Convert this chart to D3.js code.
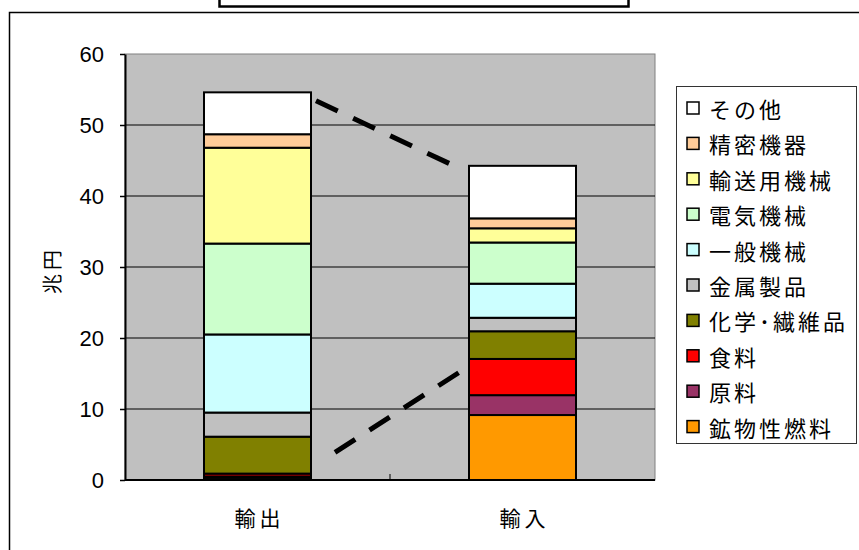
<!DOCTYPE html>
<html>
<head>
<meta charset="utf-8">
<script src="https://cdn.jsdelivr.net/npm/d3@7"></script>
<style>
  body { margin: 0; background: #fff; }
  text { font-family: "Liberation Sans", Arial, sans-serif; }
  .jp { font-family: "Noto Sans CJK JP", sans-serif; }
</style>
</head>
<body>
<svg width="859" height="550"></svg>
<script>
// categories on the x axis
var groups = ["輸出", "輸入"];

// stacking order, bottom to top
var items = ["鉱物性燃料", "原料", "食料", "化学･繊維品", "金属製品",
             "一般機械", "電気機械", "輸送用機械", "精密機器", "その他"];

var colors = ["#FF9900", "#993366", "#FF0000", "#808000", "#C0C0C0",
              "#CCFFFF", "#CCFFCC", "#FFFF99", "#FFCC99", "#FFFFFF"];

// values in 兆円, same order as items
var exportValues = [0.3, 0.2, 0.4, 5.2, 3.4, 11.0, 12.8, 13.5, 1.9, 5.9];
var importValues = [9.15, 2.8, 5.1, 3.9, 1.9, 4.8, 5.8, 2.0, 1.4, 7.4];

var yTicks = [0, 10, 20, 30, 40, 50, 60];

// hand-drawn dashed guide lines: [value at 輸出, value at 輸入]
var guideLines = [[53.4, 44.4], [3.9, 15.5]];

var svg = d3.select("svg");

var plot = { left: 125, right: 655, top: 54, bottom: 480 };

var x = d3.scalePoint()
    .domain(groups)
    .range([plot.left, plot.right])
    .padding(0.5);

var y = d3.scaleLinear()
    .domain([0, 60])
    .range([plot.bottom, plot.top]);

var barWidth = 107;

// outer frame and cut-off title box
svg.append("rect")
    .attr("x", 9.5).attr("y", 12.5)
    .attr("width", 870).attr("height", 570)
    .attr("fill", "#fff")
    .attr("stroke", "#000")
    .attr("stroke-width", 1.5);

svg.append("rect")
    .attr("x", 219.5).attr("y", -20)
    .attr("width", 409).attr("height", 26.5)
    .attr("fill", "#fff")
    .attr("stroke", "#000")
    .attr("stroke-width", 2.5);

// plot area
svg.append("rect")
    .attr("x", plot.left).attr("y", plot.top)
    .attr("width", plot.right - plot.left)
    .attr("height", plot.bottom - plot.top)
    .attr("fill", "#C0C0C0")
    .attr("stroke", "#808080")
    .attr("stroke-width", 1);

// gridlines
svg.append("g")
    .selectAll("line")
    .data(yTicks.filter(d => d > 0 && d < 60))
    .enter().append("line")
    .attr("x1", plot.left).attr("x2", plot.right)
    .attr("y1", d => y(d)).attr("y2", d => y(d))
    .attr("stroke", "#000")
    .attr("stroke-width", 1);

// y axis
var yAxis = svg.append("g")
    .attr("transform", "translate(" + plot.left + ",0)")
    .call(d3.axisLeft(y).tickValues(yTicks).tickSize(5).tickSizeOuter(0).tickPadding(16));
yAxis.select(".domain").attr("stroke", "#000").attr("stroke-width", 2);
yAxis.selectAll(".tick line").attr("stroke", "#000").attr("stroke-width", 1.5);
yAxis.selectAll("text")
    .attr("font-size", 22)
    .attr("font-family", "'Liberation Sans', Arial, sans-serif")
    .attr("fill", "#000");

// x axis line and middle tick
svg.append("line")
    .attr("x1", plot.left).attr("x2", plot.right)
    .attr("y1", plot.bottom).attr("y2", plot.bottom)
    .attr("stroke", "#000").attr("stroke-width", 2);

svg.append("line")
    .attr("x1", (x(groups[0]) + x(groups[1])) / 2)
    .attr("x2", (x(groups[0]) + x(groups[1])) / 2)
    .attr("y1", plot.bottom).attr("y2", plot.bottom - 6)
    .attr("stroke", "#000").attr("stroke-width", 1);

svg.selectAll(".xlabel")
    .data(groups)
    .enter().append("text")
    .attr("class", "xlabel jp")
    .attr("x", d => x(d) + 2)
    .attr("y", 517)
    .attr("text-anchor", "middle")
    .attr("dominant-baseline", "central")
    .attr("font-size", 21)
    .attr("letter-spacing", 4)
    .text(d => d);

// y title
svg.append("text")
    .attr("class", "jp")
    .attr("transform", "translate(51,270) rotate(-90)")
    .attr("text-anchor", "middle")
    .attr("dominant-baseline", "central")
    .attr("font-size", 20)
    .attr("letter-spacing", 4)
    .text("兆円");

// stacked bars
var rows = groups.map((g, i) => {
    var vals = i == 0 ? exportValues : importValues;
    var row = { group: g };
    items.forEach((k, j) => row[k] = vals[j]);
    return row;
});

var stack = d3.stack().keys(items)(rows);

// dashed guide lines (drawn under bars)
var guides = [
    { x1: x(groups[0]) + barWidth / 2 + 5, x2: x(groups[1]) - barWidth / 2 - 17 },
    { x1: x(groups[0]) + barWidth / 2 + 24, x2: x(groups[1]) - barWidth / 2 - 6 }
];
svg.append("g")
    .selectAll("line")
    .data(guideLines)
    .enter().append("line")
    .attr("x1", (d, i) => guides[i].x1)
    .attr("x2", (d, i) => guides[i].x2)
    .attr("y1", d => y(d[0]))
    .attr("y2", d => y(d[1]))
    .attr("stroke", "#000")
    .attr("stroke-width", 5)
    .attr("stroke-dasharray", "24,17");

svg.append("g")
    .selectAll("g")
    .data(stack)
    .enter().append("g")
    .attr("fill", (d, i) => colors[i])
    .selectAll("rect")
    .data(d => d)
    .enter().append("rect")
    .attr("x", d => x(d.data.group) - barWidth / 2)
    .attr("y", d => y(d[1]))
    .attr("width", barWidth)
    .attr("height", d => y(d[0]) - y(d[1]))
    .attr("stroke", "#000")
    .attr("stroke-width", 2);

// legend
var legend = svg.append("g");
legend.append("rect")
    .attr("x", 676.5).attr("y", 86.5)
    .attr("width", 180).attr("height", 357)
    .attr("fill", "#fff")
    .attr("stroke", "#333")
    .attr("stroke-width", 1);

var legendItems = items.map((k, i) => ({ name: k, color: colors[i] })).reverse();

var li = legend.selectAll(".li")
    .data(legendItems)
    .enter().append("g")
    .attr("class", "li")
    .attr("transform", (d, i) => "translate(0," + (108 + i * 35.4) + ")");

li.append("rect")
    .attr("x", 687).attr("y", -6)
    .attr("width", 12).attr("height", 12)
    .attr("fill", d => d.color)
    .attr("stroke", "#000")
    .attr("stroke-width", 1.5);

li.append("text")
    .attr("class", "jp")
    .attr("x", 709)
    .attr("dominant-baseline", "central")
    .attr("font-size", 22)
    .attr("letter-spacing", 3)
    .text(d => d.name);
</script>
</body>
</html>
